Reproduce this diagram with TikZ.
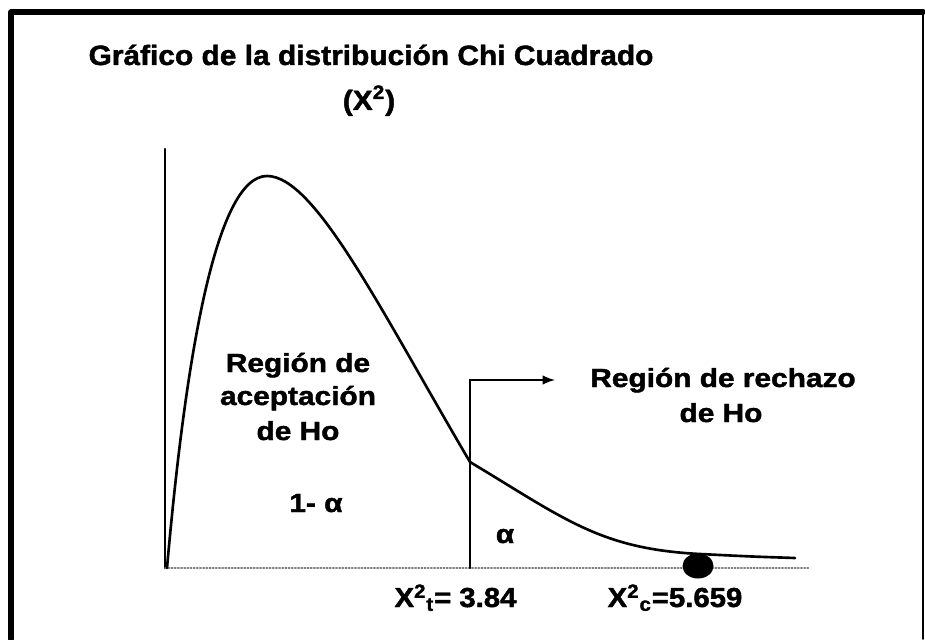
\documentclass[tikz,border=0pt]{standalone}
\usepackage{fontspec}
\usepackage{tikz}
\newfontfamily\titlefont[FakeStretch=1.07,BoldFeatures={FakeBold=1.6}]{Liberation Sans}
\newfontfamily\lblfont[FakeStretch=1.14,BoldFeatures={FakeBold=1.6}]{Liberation Sans}

\begin{document}
\begin{tikzpicture}[line cap=round,line join=round,
  titletxt/.style={font=\titlefont\bfseries\fontsize{15.9}{19}\selectfont,anchor=base,inner sep=0pt},
  lbl/.style={font=\lblfont\bfseries\fontsize{14.9}{18}\selectfont,anchor=base,inner sep=0pt},
  vallbl/.style={font=\titlefont\bfseries\fontsize{15.6}{19}\selectfont,anchor=base,inner sep=0pt},
  curve/.style={line width=1.5pt}]
\useasboundingbox (0,0) rectangle (18.5,12.78);
%frame
\draw [line width=3.2pt] (0.22,0) -- (0.22,12.54) -- (18.46,12.54);
\draw [line width=0.9pt] (18.46,12.54) -- (18.46,0);

%title
\path (7.42,11.48) node (title) [titletxt] {Gráfico de la distribución Chi Cuadrado};
\path (7.38,10.58) node (titlechi) [titletxt] {(X\textsuperscript{2})};

%axes
\coordinate (origin) at (3.3,1.42);
\coordinate (ytop) at (3.3,9.80);
\coordinate (xend) at (16.2,1.42);
\draw [line width=1.2pt] (origin) -- (ytop);
\draw [densely dotted,gray,line width=0.8pt] (origin) -- (xend);

%density
\coordinate (peak) at (5.34,9.26);
\coordinate (cut) at (9.40,3.54);
\coordinate (tail) at (15.9,1.62);
\draw [curve] (3.34,1.42) .. controls (3.7,5.5) and (4.3,9.26) .. (peak)
  .. controls (6.3,9.26) and (7.6,6.6) .. (cut)
  .. controls (11.3,2.4) and (12.0,1.8) .. (14.0,1.7)
  .. controls (15.0,1.65) .. (tail);

%critical value
\coordinate (critbase) at (9.40,1.42);
\coordinate (critcorner) at (9.40,5.18);
\coordinate (rechend) at (11.10,5.18);
\draw [line width=1.4pt] (critbase) -- (critcorner);
\draw [line width=1.4pt,-latex] (critcorner) -- (rechend);

%calculated value
\coordinate (chicalc) at (13.96,1.46);
\fill (chicalc) ellipse [x radius=0.31cm,y radius=0.25cm];

%region labels
\path (5.96,5.34) node (acepA) [lbl] {Región de};
\path (5.96,4.68) node (acepB) [lbl] {aceptación};
\path (5.96,3.98) node (acepC) [lbl] {de Ho};
\path (6.32,2.54) node (oneminus) [lbl] {1- α};
\path (14.46,5.04) node (rechA) [lbl] {Región de rechazo};
\path (14.42,4.34) node (rechB) [lbl] {de Ho};
\path (10.10,1.92) node (alpha) [lbl] {α};

%values
\path (9.11,0.64) node (chitab) [vallbl] {X\textsuperscript{2}\textsubscript{t}= 3.84};
\path (13.50,0.64) node (chical) [vallbl] {X\textsuperscript{2}\textsubscript{c}=5.659};
\end{tikzpicture}
\end{document}
